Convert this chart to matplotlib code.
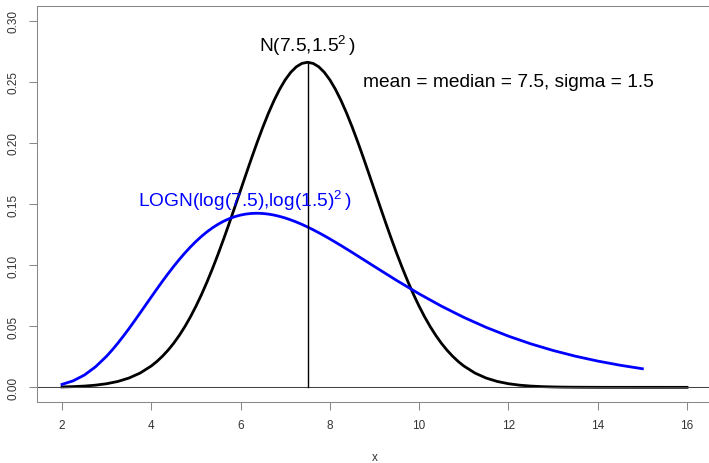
import matplotlib.pyplot as plt

# Fuentes parecidas a Helvetica (R base graphics)
plt.rcParams["font.family"] = ["Liberation Sans", "DejaVu Sans"]
plt.rcParams["mathtext.fontset"] = "custom"
plt.rcParams["mathtext.rm"] = "Liberation Sans"
plt.rcParams["mathtext.it"] = "Liberation Sans:italic"

# Curva normal N(7.5, 1.5^2)
norm_x = [2.0, 2.25, 2.5, 2.75, 3.0, 3.25, 3.5, 3.75,
          4.0, 4.125, 4.25, 4.375, 4.5, 4.625, 4.75, 4.875,
          5.0, 5.125, 5.25, 5.375, 5.5, 5.625, 5.75, 5.875,
          6.0, 6.125, 6.25, 6.375, 6.5, 6.625, 6.75, 6.875,
          7.0, 7.125, 7.25, 7.375, 7.5, 7.625, 7.75, 7.875,
          8.0, 8.125, 8.25, 8.375, 8.5, 8.625, 8.75, 8.875,
          9.0, 9.125, 9.25, 9.375, 9.5, 9.625, 9.75, 9.875,
          10.0, 10.125, 10.25, 10.375, 10.5, 10.625, 10.75, 10.875,
          11.0, 11.25, 11.5, 11.75, 12.0, 12.25, 12.5, 12.75,
          13.0, 13.25, 13.5, 13.75, 14.0, 14.5, 15.0, 15.5, 16.0]
norm_y = [0.00032, 0.00058, 0.00103, 0.00177, 0.00296, 0.00480, 0.00760, 0.01169,
          0.01748, 0.02116, 0.02544, 0.03036, 0.03599, 0.04237, 0.04954, 0.05752,
          0.06632, 0.07593, 0.08634, 0.09750, 0.10934, 0.12177, 0.13467, 0.14790,
          0.16131, 0.17472, 0.18795, 0.20076, 0.21297, 0.22435, 0.23471, 0.24385,
          0.25159, 0.25778, 0.26229, 0.26504, 0.26596, 0.26504, 0.26229, 0.25778,
          0.25159, 0.24385, 0.23471, 0.22435, 0.21297, 0.20076, 0.18795, 0.17472,
          0.16131, 0.14790, 0.13467, 0.12177, 0.10934, 0.09750, 0.08634, 0.07593,
          0.06632, 0.05752, 0.04954, 0.04237, 0.03599, 0.03036, 0.02544, 0.02116,
          0.01748, 0.01169, 0.00760, 0.00480, 0.00296, 0.00177, 0.00103, 0.00058,
          0.00032, 0.00017, 0.00009, 0.00005, 0.00002, 0.000005, 0.000001, 0.0, 0.0]

# Curva lognormal LOGN(log(7.5), log(1.5)^2)
logn_x = [2.0, 2.25, 2.5, 2.75, 3.0, 3.125, 3.25, 3.375, 3.5, 3.625, 3.75, 3.875,
          4.0, 4.125, 4.25, 4.375, 4.5, 4.625, 4.75, 4.875,
          5.0, 5.125, 5.25, 5.375, 5.5, 5.625, 5.75, 5.875,
          6.0, 6.125, 6.25, 6.375, 6.5, 6.625, 6.75, 6.875,
          7.0, 7.125, 7.25, 7.375, 7.5, 7.625, 7.75, 7.875,
          8.0, 8.25, 8.5, 8.75, 9.0, 9.5, 10.0, 10.5, 11.0, 11.5, 12.0,
          12.5, 13.0, 13.5, 14.0, 14.5, 15.0]
logn_y = [0.00242, 0.00532, 0.01002, 0.01675, 0.02551, 0.03060, 0.03609, 0.04193,
          0.04805, 0.05438, 0.06086, 0.06741,
          0.07395, 0.08044, 0.08679, 0.09295, 0.09887, 0.10451, 0.10983, 0.11478,
          0.11936, 0.12353, 0.12729, 0.13061, 0.13351, 0.13599, 0.13805, 0.13970,
          0.14094, 0.14180, 0.14229, 0.14243, 0.14223, 0.14172, 0.14093, 0.13986,
          0.13854, 0.13699, 0.13524, 0.13330, 0.13119, 0.12893, 0.12654, 0.12404,
          0.12144, 0.11601, 0.11037, 0.10461, 0.09881, 0.08738, 0.07650, 0.06641,
          0.05726, 0.04908, 0.04188, 0.03560, 0.03016, 0.02548, 0.02149, 0.01810,
          0.01522]

peak_x = 7.5
peak_y = 0.26596

x_ticks = [2, 4, 6, 8, 10, 12, 14, 16]
y_ticks = [0.00, 0.05, 0.10, 0.15, 0.20, 0.25, 0.30]

# Figura del tamaño de la referencia
fig = plt.figure(figsize=(7.09, 4.64), dpi=100)
ax = fig.add_axes([37 / 709, 61 / 464, 675 / 709, 396 / 464])

# Curvas
ax.plot(norm_x, norm_y, color="black", linewidth=2.0, solid_joinstyle="round")
ax.plot(logn_x, logn_y, color="#0000FF", linewidth=2.0, solid_joinstyle="round")

# Lineas auxiliares
ax.axhline(0, color="#444444", linewidth=0.75)
ax.plot([peak_x, peak_x], [0, peak_y], color="black", linewidth=1.0)

# Textos
ax.text(7.5, 0.28, r"N(7.5,1.5$^{2}\,$)", fontsize=13.8, ha="center", va="center")
ax.text(12, 0.25, "mean = median = 7.5, sigma = 1.5", fontsize=13.8,
        ha="center", va="center")
ax.text(6.1, 0.153, r"LOGN(log(7.5),log(1.5)$^{2}\,$)", fontsize=13.8,
        color="#0000FF", ha="center", va="center")

# Ejes estilo R
ax.set_xlim(1.44, 16.56)
ax.set_ylim(-0.012, 0.312)
ax.set_xticks(x_ticks)
ax.set_xticklabels([str(t) for t in x_ticks])
ax.set_yticks(y_ticks)
ax.set_yticklabels([f"{t:.2f}" for t in y_ticks], rotation=90, va="center")
ax.tick_params(direction="out", length=5.5, width=0.75, color="#888888",
               labelsize=8.5, labelcolor="#333333", pad=7)
ax.set_xlabel("x", fontsize=8.5, color="#333333", labelpad=14)
for s in ax.spines.values():
    s.set_linewidth(0.75)
    s.set_color("#888888")

fig.savefig("out.png", dpi=100)
